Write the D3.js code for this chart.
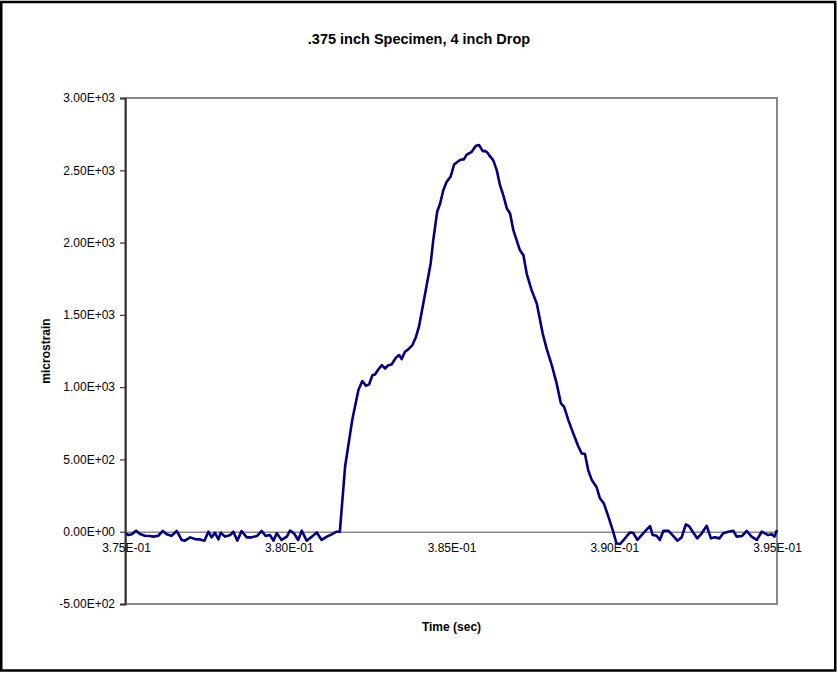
<!DOCTYPE html>
<html>
<head>
<meta charset="utf-8">
<script src="https://cdn.jsdelivr.net/npm/d3@7"></script>
<style>
  html, body { margin: 0; padding: 0; background: #fff; }
  svg { display: block; }
  text { font-family: "Liberation Sans", Arial, sans-serif; fill: #000; }
</style>
</head>
<body>
<svg id="chart" width="837" height="673"></svg>
<script>
// Strain gauge trace, .375 inch specimen, 4 inch drop
const timeSec = [
  0.37500, 0.37507, 0.37518, 0.37531, 0.37543, 0.37558, 0.37574, 0.37584, 0.37599, 0.37613,
  0.37625, 0.37640, 0.37656, 0.37671, 0.37681, 0.37697, 0.37712, 0.37727, 0.37741, 0.37753,
  0.37763, 0.37773, 0.37784, 0.37791, 0.37804, 0.37820, 0.37830, 0.37842, 0.37855, 0.37871,
  0.37886, 0.37902, 0.37917, 0.37929, 0.37942, 0.37953, 0.37963, 0.37978, 0.37994, 0.38004,
  0.38016, 0.38029, 0.38040, 0.38055, 0.38071, 0.38086, 0.38101, 0.38117, 0.38132, 0.38147,
  0.38157, 0.38173, 0.38195, 0.38214, 0.38226, 0.38237, 0.38247, 0.38257, 0.38265, 0.38275,
  0.38286, 0.38296, 0.38306, 0.38316, 0.38329, 0.38339, 0.38347, 0.38357, 0.38367, 0.38380,
  0.38391, 0.38400, 0.38419, 0.38436, 0.38444, 0.38456, 0.38465, 0.38475, 0.38485, 0.38497,
  0.38508, 0.38521, 0.38531, 0.38538, 0.38547, 0.38562, 0.38575, 0.38585, 0.38596, 0.38603,
  0.38610, 0.38618, 0.38628, 0.38639, 0.38649, 0.38659, 0.38670, 0.38680, 0.38690, 0.38700,
  0.38710, 0.38721, 0.38731, 0.38746, 0.38762, 0.38780, 0.38792, 0.38808, 0.38823, 0.38836,
  0.38846, 0.38859, 0.38874, 0.38890, 0.38900, 0.38910, 0.38920, 0.38931, 0.38946, 0.38956,
  0.38968, 0.38982, 0.38995, 0.39007, 0.39018, 0.39033, 0.39048, 0.39058, 0.39071, 0.39084,
  0.39100, 0.39110, 0.39118, 0.39130, 0.39140, 0.39151, 0.39166, 0.39179, 0.39194, 0.39207,
  0.39220, 0.39230, 0.39243, 0.39255, 0.39269, 0.39284, 0.39297, 0.39309, 0.39323, 0.39335,
  0.39350, 0.39366, 0.39376, 0.39392, 0.39407, 0.39422, 0.39438, 0.39453, 0.39463, 0.39473,
  0.39484, 0.39492, 0.39500
];
const microstrain = [
  -11, -23, -18, 7, -16, -28, -30, -34, -28, 5,
  -18, -28, 5, -57, -62, -39, -51, -53, -62, 0,
  -39, -7, -53, -7, -34, -23, 0, -62, 5, -39,
  -39, -30, 5, -30, -23, -62, -11, -57, -34, 7,
  -11, -57, 7, -62, -34, -5, -57, -34, -18, 0,
  0, 449, 772, 980, 1042, 1010, 1019, 1083, 1088, 1122,
  1152, 1129, 1152, 1157, 1203, 1222, 1194, 1245, 1261, 1291,
  1349, 1418, 1648, 1856, 2017, 2213, 2270, 2363, 2420, 2455,
  2540, 2563, 2575, 2575, 2609, 2628, 2670, 2674, 2632, 2634,
  2623, 2598, 2570, 2501, 2397, 2328, 2236, 2201, 2086, 2017,
  1948, 1913, 1786, 1671, 1579, 1372, 1268, 1153, 1026, 888,
  864, 772, 680, 588, 542, 537, 426, 357, 307, 231,
  196, 104, 12, -81, -85, -46, -5, -7, -57, -23,
  16, 39, -23, -28, -57, 7, 7, -23, -62, -39,
  51, 39, -7, -46, -11, 41, -46, -39, -46, -11,
  0, 7, -34, -30, 5, -34, -57, 0, -11, -23,
  -18, -34, 12
];
const xTicks = [0.375, 0.380, 0.385, 0.390, 0.395];
const yTicks = [-500, 0, 500, 1000, 1500, 2000, 2500, 3000];
const chartTitle = ".375 inch Specimen, 4 inch Drop";
const xTitle = "Time (sec)";
const yTitle = "microstrain";

const svg = d3.select("#chart");
const plot = { left: 126, right: 777, top: 98, bottom: 604 };

const x = d3.scaleLinear().domain([0.375, 0.395]).range([plot.left, plot.right]);
const y = d3.scaleLinear().domain([-500, 3000]).range([plot.bottom, plot.top]);

// Exponential notation as in spreadsheet charts, e.g. 3.00E+03
function sci(v) {
  if (v === 0) return "0.00E+00";
  const s = v.toExponential(2).toUpperCase();
  return s.replace(/E([+-])(\d)$/, "E$10$2");
}

// Outer frame
svg.append("rect")
  .attr("x", 1.25).attr("y", 2).attr("width", 834).attr("height", 668.5)
  .attr("fill", "#fff").attr("stroke", "#000").attr("stroke-width", 2.5);

// Plot area border
svg.append("rect")
  .attr("x", plot.left).attr("y", plot.top)
  .attr("width", plot.right - plot.left).attr("height", plot.bottom - plot.top)
  .attr("fill", "#fff").attr("stroke", "#888").attr("stroke-width", 2);

// Y axis
const yAxis = d3.axisLeft(y).tickValues(yTicks).tickSize(5).tickPadding(5).tickFormat(sci);
const gy = svg.append("g").attr("transform", `translate(${plot.left - 1},0)`).call(yAxis);
gy.select(".domain").attr("stroke", "#333").attr("stroke-width", 2);
gy.selectAll(".tick line").attr("stroke", "#333").attr("stroke-width", 1.2);
gy.selectAll(".tick text").style("font-size", "12px").style("font-family", "Liberation Sans, Arial, sans-serif").attr("fill", "#000");

// X axis drawn through zero
const xAxis = d3.axisBottom(x).tickValues(xTicks).tickSize(0).tickPadding(12).tickFormat(sci);
const gx = svg.append("g").attr("transform", `translate(0,${y(0)})`).call(xAxis);
gx.select(".domain").attr("stroke", "#888").attr("stroke-width", 1.5);
gx.selectAll(".tick text").style("font-size", "12px").style("font-family", "Liberation Sans, Arial, sans-serif").attr("fill", "#000");

// Data trace
const line = d3.line()
  .x((d, i) => x(timeSec[i]))
  .y(d => y(d));
svg.append("path")
  .datum(microstrain)
  .attr("d", line)
  .attr("fill", "none")
  .attr("stroke", "#000080")
  .attr("stroke-width", 2.6)
  .attr("stroke-linejoin", "round");

// Titles
svg.append("text")
  .attr("x", 419).attr("y", 44)
  .attr("text-anchor", "middle")
  .style("font-size", "14.5px").style("font-weight", "bold")
  .text(chartTitle);

svg.append("text")
  .attr("x", (plot.left + plot.right) / 2).attr("y", 631)
  .attr("text-anchor", "middle")
  .style("font-size", "12px").style("font-weight", "bold")
  .text(xTitle);

svg.append("text")
  .attr("transform", `translate(50,${(plot.top + plot.bottom) / 2}) rotate(-90)`)
  .attr("text-anchor", "middle")
  .style("font-size", "12px").style("font-weight", "bold")
  .text(yTitle);
</script>
</body>
</html>
